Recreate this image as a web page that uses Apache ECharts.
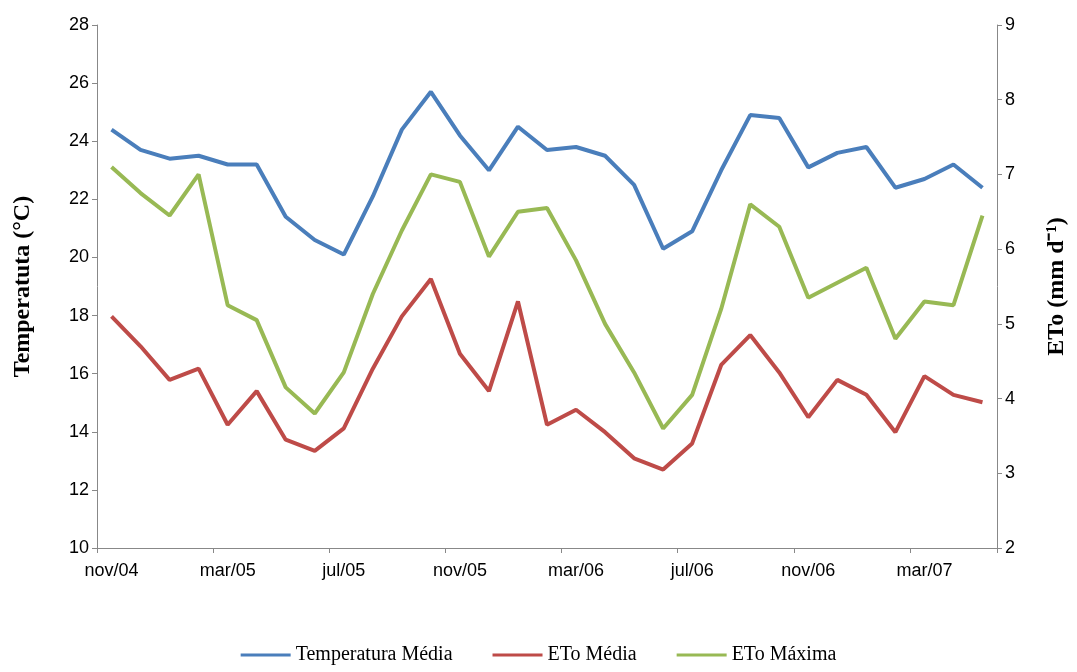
<!DOCTYPE html>
<html><head><meta charset="utf-8">
<script src="https://cdn.jsdelivr.net/npm/echarts@6/dist/echarts.min.js"></script>
<style>html,body{margin:0;background:#fff}#c{width:1077px;height:672px}</style>
</head><body><div id="c"></div>
<script>
const months = ['nov/04','dez/04','jan/05','fev/05','mar/05','abr/05','mai/05','jun/05','jul/05','ago/05','set/05','out/05',
  'nov/05','dez/05','jan/06','fev/06','mar/06','abr/06','mai/06','jun/06','jul/06','ago/06','set/06','out/06',
  'nov/06','dez/06','jan/07','fev/07','mar/07','abr/07','mai/07'];
const tempMedia = [24.4,23.7,23.4,23.5,23.2,23.2,21.4,20.6,20.1,22.1,24.4,25.7,24.2,23.0,24.5,23.7,23.8,23.5,22.5,20.3,20.9,23.0,24.9,24.8,23.1,23.6,23.8,22.4,22.7,23.2,22.4];
const etoMedia = [5.1,4.7,4.25,4.4,3.65,4.1,3.45,3.3,3.6,4.4,5.1,5.6,4.6,4.1,5.3,3.65,3.85,3.55,3.2,3.05,3.4,4.45,4.85,4.35,3.75,4.25,4.05,3.55,4.3,4.05,3.95];
const etoMaxima = [7.1,6.75,6.45,7.0,5.25,5.05,4.15,3.8,4.35,5.4,6.25,7.0,6.9,5.9,6.5,6.55,5.85,5.0,4.35,3.6,4.05,5.2,6.6,6.3,5.35,5.55,5.75,4.8,5.3,5.25,6.45];

const serif = 'Liberation Serif';
const sans = 'Liberation Sans';
const axisLine = {show: true, lineStyle: {color: '#888'}};
const tickLabel = {fontSize: 18, color: '#000', fontFamily: sans};
const chart = echarts.init(document.getElementById('c'));
chart.setOption({
  animation: false,
  textStyle: {fontFamily: serif},
  grid: {left: 97, right: 80, top: 25, bottom: 124},
  legend: {bottom: 2, itemWidth: 50, itemGap: 40, icon: 'rect', itemHeight: 3,
    textStyle: {fontFamily: serif, fontSize: 20, color: '#000'}},
  xAxis: {type: 'category', data: months, axisLine, axisTick: {show: true, interval: 3, length: 5},
    axisLabel: Object.assign({interval: 3, margin: 14}, tickLabel)},
  yAxis: [
    {type: 'value', min: 10, max: 28, interval: 2, axisLine, splitLine: {show: false},
      axisTick: {show: true}, axisLabel: tickLabel,
      name: 'Temperatuta (°C)', nameLocation: 'middle', nameGap: 62,
      nameTextStyle: {fontSize: 24, fontWeight: 'bold', color: '#000', fontFamily: serif}},
    {type: 'value', min: 2, max: 9, interval: 1, axisLine, splitLine: {show: false},
      axisTick: {show: true}, axisLabel: tickLabel,
      name: 'ETo (mm d⁻¹)', nameLocation: 'middle', nameGap: 48,
      nameTextStyle: {fontSize: 24, fontWeight: 'bold', color: '#000', fontFamily: serif}}
  ],
  series: [
    {name: 'Temperatura Média', type: 'line', data: tempMedia, symbol: 'none', lineStyle: {width: 4, color: '#4a7ebb'}, itemStyle: {color: '#4a7ebb'}},
    {name: 'ETo Média', type: 'line', yAxisIndex: 1, data: etoMedia, symbol: 'none', lineStyle: {width: 4, color: '#be4b48'}, itemStyle: {color: '#be4b48'}},
    {name: 'ETo Máxima', type: 'line', yAxisIndex: 1, data: etoMaxima, symbol: 'none', lineStyle: {width: 4, color: '#98b954'}, itemStyle: {color: '#98b954'}}
  ]
});
</script></body></html>
